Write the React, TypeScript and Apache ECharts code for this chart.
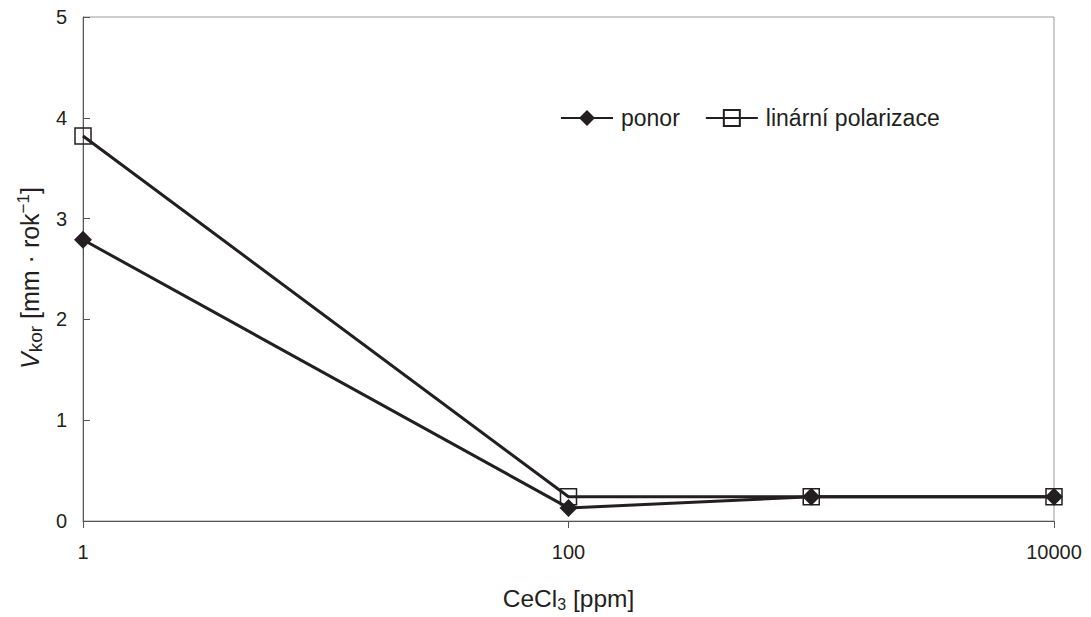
import React, { useEffect, useRef } from "react";
import * as echarts from "echarts";

const concentrations = [1, 100, 1000, 10000];
const ponorValues = [2.79, 0.13, 0.24, 0.24];
const polarizaceValues = [3.82, 0.24, 0.24, 0.24];
const seriesNames = ["ponor", "linární polarizace"];

const INK = "#231f20";
const FONT = "'Liberation Sans', Arial, sans-serif";

export default function App() {
  const ref = useRef<HTMLDivElement>(null);
  useEffect(() => {
    if (!ref.current) return;
    const chart = echarts.init(ref.current, undefined, { renderer: "svg" });
    chart.setOption({
      animation: false,
      backgroundColor: "#ffffff",
      textStyle: { fontFamily: FONT, color: INK },
      grid: {
        left: 83,
        right: 37,
        top: 17,
        bottom: 92,
        show: true,
        borderColor: "#9a9a9a",
        borderWidth: 1,
        containLabel: false,
      },
      legend: {
        left: 560,
        top: 106,
        padding: 0,
        itemWidth: 52,
        itemHeight: 20,
        itemGap: 25,
        textStyle: {
          fontFamily: FONT,
          fontSize: 23,
          color: INK,
          lineHeight: 24,
          padding: [0, 0, 0, 3],
        },
        data: seriesNames,
      },
      xAxis: {
        type: "log",
        logBase: 100,
        min: 1,
        max: 10000,
        name: "{a|CeCl}{s|3}{a| [ppm]}",
        nameLocation: "middle",
        nameGap: 63,
        nameTextStyle: {
          rich: {
            a: { fontFamily: FONT, fontSize: 24.5, color: INK, lineHeight: 28 },
            s: {
              fontFamily: FONT,
              fontSize: 16,
              color: INK,
              lineHeight: 18,
              verticalAlign: "bottom",
            },
          },
        },
        axisLine: { show: true, lineStyle: { color: "#555", width: 1 } },
        axisTick: { show: true, inside: false, length: 7, lineStyle: { color: "#555" } },
        axisLabel: {
          fontFamily: FONT,
          fontSize: 20,
          color: INK,
          margin: 21,
          formatter: (v: number) => String(Math.round(v)),
        },
        splitLine: { show: false },
        minorTick: { show: false },
      },
      yAxis: {
        type: "value",
        min: 0,
        max: 5,
        interval: 1,
        name: "{v|V}{k|kor}{a| [mm · rok}{s|−1}{a|]}",
        nameLocation: "middle",
        nameGap: 35,
        nameRotate: 90,
        nameTextStyle: {
          padding: [0, 18, 0, 0],
          rich: {
            v: {
              fontFamily: FONT,
              fontSize: 25,
              fontStyle: "italic",
              color: INK,
              lineHeight: 30,
            },
            k: {
              fontFamily: FONT,
              fontSize: 19,
              color: INK,
              lineHeight: 24,
              verticalAlign: "bottom",
            },
            a: { fontFamily: FONT, fontSize: 25, color: INK, lineHeight: 30 },
            s: {
              fontFamily: FONT,
              fontSize: 17,
              color: INK,
              lineHeight: 18,
              verticalAlign: "top",
            },
          },
        },
        axisLine: { show: true, lineStyle: { color: "#555", width: 1 } },
        axisTick: { show: true, inside: true, length: 7, lineStyle: { color: "#555" } },
        axisLabel: { fontFamily: FONT, fontSize: 20, color: INK, margin: 16 },
        splitLine: { show: false },
      },
      series: [
        {
          name: seriesNames[0],
          type: "line",
          z: 4,
          data: concentrations.map((c, i) => [c, ponorValues[i]]),
          symbol: "diamond",
          symbolSize: 18,
          lineStyle: { color: INK, width: 3 },
          itemStyle: { color: INK, borderWidth: 0 },
        },
        {
          name: seriesNames[1],
          type: "line",
          z: 3,
          data: concentrations.map((c, i) => [c, polarizaceValues[i]]),
          symbol: "rect",
          symbolSize: 16,
          lineStyle: { color: INK, width: 3 },
          itemStyle: {
            color: "rgba(255,255,255,0)",
            borderColor: INK,
            borderWidth: 1.5,
          },
        },
      ],
    });
    return () => chart.dispose();
  }, []);
  return (
    <div
      ref={ref}
      style={{ position: "fixed", left: 0, top: 0, width: 1091, height: 617 }}
    />
  );
}
